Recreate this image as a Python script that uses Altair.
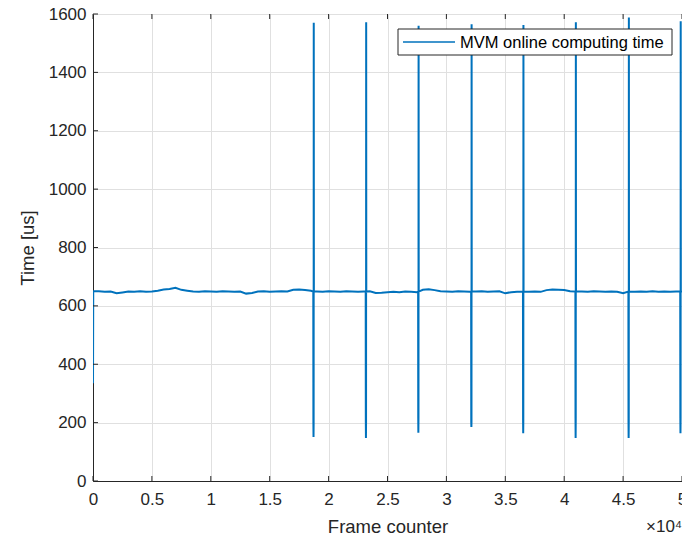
import altair as alt
import pandas as pd

# ---- data ----
start_frames = [0, 20]
start_values = [335, 650]

base_frames = list(range(500, 50001, 500))
base_values = [
    650, 648, 649, 643, 646, 649, 648, 650, 648, 649,    # 500 - 5000
    652, 656, 658, 662, 655, 652, 649, 648, 650, 649,    # 5500 - 10000
    648, 650, 649, 648, 649, 642, 644, 649, 650, 648,    # 10500 - 15000
    649, 650, 649, 655, 656, 654, 652, 649, 648, 650,    # 15500 - 20000
    649, 648, 650, 649, 648, 649, 650, 644, 645, 647,    # 20500 - 25000
    648, 647, 649, 648, 647, 655, 657, 654, 650, 649,    # 25500 - 30000
    648, 650, 649, 648, 649, 650, 648, 649, 650, 643,    # 30500 - 35000
    647, 648, 649, 648, 649, 648, 654, 656, 655, 654,    # 35500 - 40000
    650, 648, 649, 648, 650, 649, 648, 649, 648, 643,    # 40500 - 45000
    646, 648, 649, 648, 650, 648, 649, 648, 649, 648,    # 45500 - 50000
]

spike_frames = [18700, 23150, 27600, 32100, 36500, 40950, 45450, 49850]
spike_peaks = [1570, 1572, 1560, 1565, 1562, 1572, 1588, 1575]
spike_knees = [199, 205, 216, 202, 209, 216, 202, 216]
spike_lows = [151, 147, 165, 185, 164, 147, 147, 164]

x_ticks = list(range(0, 50001, 5000))
y_ticks = list(range(0, 1601, 200))
series_name = "MVM online computing time"

# ---- build table ----
rows = []
for f, v in zip(start_frames, start_values):
    rows.append((f, v))
for f, v in zip(base_frames, base_values):
    rows.append((f, v))
for s, pk, kn, lo in zip(spike_frames, spike_peaks, spike_knees, spike_lows):
    rows += [(s, 649), (s + 10, kn), (s + 20, lo), (s + 30, kn), (s + 40, pk), (s + 50, 649)]
rows.sort(key=lambda r: r[0])
df = pd.DataFrame(rows, columns=["frame", "time"])

W, H = 589, 467
AX = "#262626"
BLUE = "#0072BD"
FONT = "Liberation Sans"

x_scale = alt.Scale(domain=[0, 50000], nice=False, zero=False)
y_scale = alt.Scale(domain=[0, 1600], nice=False)

line = alt.Chart(df).mark_line(strokeWidth=2, clip=True, color=BLUE).encode(
    x=alt.X("frame:Q", scale=x_scale,
            axis=alt.Axis(values=x_ticks, title="Frame counter",
                          labelExpr="format(datum.value/10000, '~g')",
                          grid=True, ticks=False, labelPadding=10,
                          labelFlush=False, titlePadding=10)),
    y=alt.Y("time:Q", scale=y_scale,
            axis=alt.Axis(values=y_ticks, title="Time [us]", grid=True,
                          format="d", ticks=False, labelPadding=7,
                          labelFlush=False, titlePadding=11)),
)

xt = pd.DataFrame({"v": x_ticks})
yt = pd.DataFrame({"v": y_ticks})
tick_bottom = alt.Chart(xt).mark_rule(color=AX, strokeWidth=1).encode(
    x=alt.X("v:Q", scale=x_scale), y=alt.value(H), y2=alt.value(H - 5))
tick_top = alt.Chart(xt).mark_rule(color=AX, strokeWidth=1).encode(
    x=alt.X("v:Q", scale=x_scale), y=alt.value(0), y2=alt.value(5))
tick_left = alt.Chart(yt).mark_rule(color=AX, strokeWidth=1).encode(
    y=alt.Y("v:Q", scale=y_scale), x=alt.value(0), x2=alt.value(5))

# legend (drawn as a box with a line sample and label)
leg = pd.DataFrame({"t": [series_name]})
leg_box = alt.Chart(leg).mark_rect(fill="white", stroke=AX, strokeWidth=1).encode(
    x=alt.value(305), x2=alt.value(579), y=alt.value(15), y2=alt.value(41))
leg_line = alt.Chart(leg).mark_rule(color=BLUE, strokeWidth=1.5).encode(
    x=alt.value(310), x2=alt.value(362), y=alt.value(28))
leg_text = alt.Chart(leg).mark_text(
    align="left", baseline="middle", fontSize=16.5, font=FONT, color="#000000"
).encode(x=alt.value(367), y=alt.value(28.5), text="t:N")

exp_label = alt.Chart(pd.DataFrame({"t": ["×10⁴"]})).mark_text(
    align="left", baseline="middle", fontSize=17, font=FONT, color=AX
).encode(x=alt.value(553), y=alt.value(513), text="t:N")

chart = alt.layer(
    line, tick_bottom, tick_top, tick_left, leg_box, leg_line, leg_text, exp_label
).properties(
    width=W, height=H,
    padding={"left": 93, "top": 14, "right": 0, "bottom": 58},
    autosize=alt.AutoSizeParams(type="none"),
    background="white",
).configure_view(stroke=AX, strokeWidth=1).configure_axis(
    domainColor=AX, labelColor=AX, titleColor=AX, gridColor="#e0e0e0",
    labelFont=FONT, titleFont=FONT, labelFontSize=17, titleFontSize=18.5,
    titleFontWeight="normal", domainWidth=1,
)

chart.save("out.html", embed_options={"renderer": "svg", "actions": False})
